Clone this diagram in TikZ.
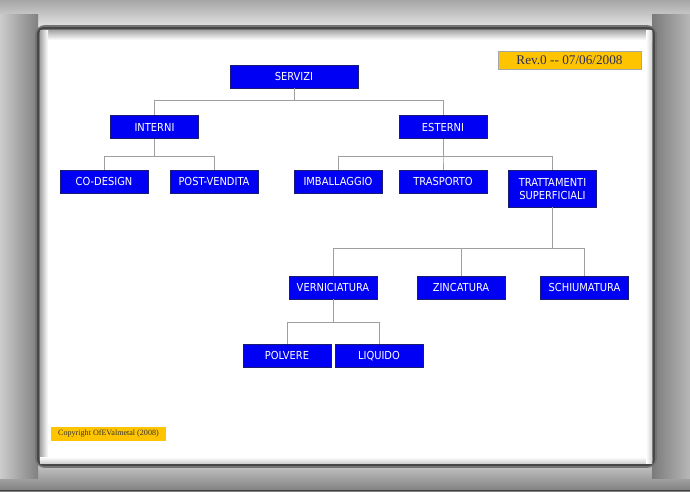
\documentclass[tikz,border=0pt]{standalone}
\usepackage{fontspec}
\setmainfont{Liberation Serif}
\setsansfont{DejaVu Sans Condensed}
\usepackage{tikz}
\usepackage{xcolor}

\definecolor{boxblue}{HTML}{0000F5}
\definecolor{boxedge}{HTML}{1A1A70}
\definecolor{gold}{HTML}{FFC400}
\definecolor{revtext}{HTML}{2E2E55}

\begin{document}
\begin{tikzpicture}[x=0.03cm, y=-0.03cm,
                box/.style={draw=boxedge, line width=0.5pt, fill=boxblue, text=white, inner sep=1pt,
                    minimum width=2.64cm, minimum height=0.69cm, align=center,
                    text height=0.73em, text depth=0.02em,
                    font=\sffamily\fontsize{9.4}{10.6}\selectfont},
                link/.style={draw=gray!75, line width=0.75pt}]
                % frame
                \useasboundingbox (0, 0) rectangle (690, 491);
                \fill[black!35] (0, 0) rectangle (690, 491);
                \shade[top color=black!35, bottom color=black!10] (0, 0) rectangle (690, 28);
                \shade[top color=black!20, bottom color=black!50] (0, 462) rectangle (690, 491);
                \shade[left color=black!20, right color=black!50] (0, 14) rectangle (38, 478);
                \shade[left color=black!52, right color=black!28] (652, 14) rectangle (690, 478);
                \draw[black!75, line width=1.2pt] (0, 490.5) -- (690, 490.5);
                \draw[black!55, line width=5pt, rounded corners=6] (38, 28) rectangle (654, 465);
                \draw[black!72, line width=1.6pt, rounded corners=5] (38, 28) rectangle (654, 465);
                \fill[white] (40, 30) rectangle (652, 463);
                \shade[top color=black!35, bottom color=white] (40, 30) rectangle (652, 40);
                \shade[left color=black!35, right color=white] (40, 30) rectangle (48, 463);
                \shade[top color=white, bottom color=black!18] (40, 457) rectangle (652, 463);
                \shade[left color=white, right color=black!18] (646, 30) rectangle (652, 463);

                \node[fill=gold, draw=gray!70, line width=0.4pt, text=revtext, minimum width=4.29cm, minimum height=0.54cm,
                    inner sep=0pt, font=\fontsize{11.3}{12}\selectfont] (rev) at (569.5, 60) {Rev.0 -{}- 07/06/2008};
                \node[fill=gold, text=black!80, minimum width=3.45cm, minimum height=0.42cm,
                    inner sep=0pt, font=\fontsize{6.9}{8}\selectfont] (copy) at (108.5, 434) {Copyright OfEValmetal (2008)};

                \node[box, minimum width=3.84cm] (s) at (294, 76.5) {SERVIZI};
                \node[box] (si) at (154.5, 127) {INTERNI};
                \node[box] (se) at (443, 127) {ESTERNI};
                \node[box] (sil) at (104, 181.5) {CO-DESIGN};
                \node[box] (sir) at (214, 181.5) {POST-VENDITA};
                \node[box] (sel) at (338, 181.5) {IMBALLAGGIO};
                \node[box] (sec) at (443, 181.5) {TRASPORTO};
                \node[box, minimum height=1.11cm, text height=1.86em] (ser) at (552.5, 188.5) {TRATTAMENTI\\SUPERFICIALI};
                \node[box] (serl) at (333, 287.5) {VERNICIATURA};
                \node[box] (serc) at (461, 287.5) {ZINCATURA};
                \node[box] (serr) at (584.5, 287.5) {SCHIUMATURA};
                \node[box] (serll) at (287, 355.5) {POLVERE};
                \node[box] (serlr) at (379, 355.5) {LIQUIDO};

                \draw[link]
                (s.south) -- ++(0, 12.5) -| (si.north)
                (s.south) -- ++(0, 12.5) -| (se.north)
                (si.south) -- ++(0, 18) -| (sil.north)
                (si.south) -- ++(0, 18) -| (sir.north)
                (se.south) -- ++(0, 18) -| (sel.north)
                (se.south) -- ++(0, 18) -| (sec.north)
                (se.south) -- ++(0, 18) -| (ser.north)
                (ser.south) -- ++(0, 41) -| (serl.north)
                (ser.south) -- ++(0, 41) -| (serc.north)
                (ser.south) -- ++(0, 41) -| (serr.north)
                (serl.south) -- ++(0, 23) -| (serll.north)
                (serl.south) -- ++(0, 23) -| (serlr.north);
            \end{tikzpicture}
\end{document}
